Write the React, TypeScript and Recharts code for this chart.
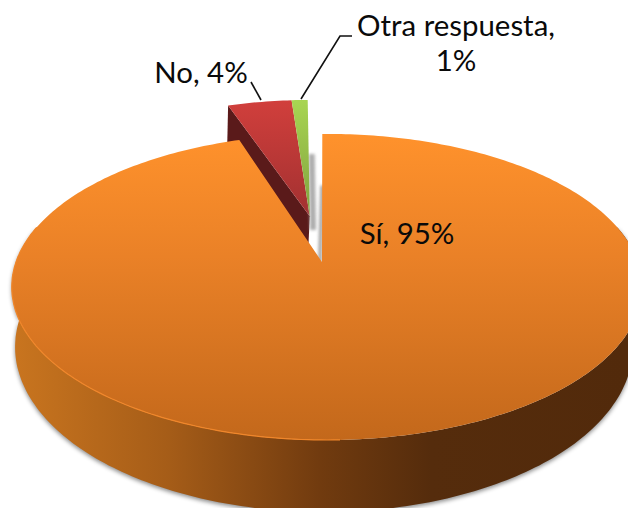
import { PieChart, Pie } from 'recharts';

const categories = ['No', 'Otra respuesta', 'Sí'];
const shares = [4, 1, 95];
const faceFills = ['url(#faceNo)', 'url(#faceOtra)', 'url(#faceSi)'];

const tableData = categories.map((name, i) => ({ name, value: shares[i], fill: faceFills[i] }));

// fake 3D: pie angles go through a perspective plane
const TILT = 0.479;
const PERSP = 0.163;
const BOTTOM_DX = -3;
const BOTTOM_SCALE = 0.98;
const BOTTOM_TILT = 0.517;
const BOTTOM_DY = 58;
const EXPLODE_ANGLE = 100.2;
const EXPLODE_DIST = 0.328;
const APEX_SHIFT = -0.016;
const FONT = 'Lato, "Open Sans", sans-serif';

const rad = (d: number) => (d * Math.PI) / 180;

function project(cx: number, cy: number, r: number, u: number, v: number, bottom = false) {
  const w = 1 - PERSP * v;
  if (bottom) {
    return [cx + BOTTOM_DX + (r * BOTTOM_SCALE * u) / w, cy + BOTTOM_DY + (r * BOTTOM_TILT * v) / w];
  }
  return [cx + (r * u) / w, cy + (r * TILT * v) / w];
}

function toPath(pts: number[][]) {
  return 'M' + pts.map((p) => p[0].toFixed(1) + ',' + p[1].toFixed(1)).join('L') + 'Z';
}

function PieSlice(props: any) {
  const { cx, cy, outerRadius: r, startAngle, endAngle, fill, name } = props;
  const exploded = name !== 'Sí';
  const ox = exploded ? EXPLODE_DIST * Math.cos(rad(EXPLODE_ANGLE)) : 0;
  const oy = exploded ? -EXPLODE_DIST * Math.sin(rad(EXPLODE_ANGLE)) : 0;
  const at = (a: number, f: number, bottom = false) =>
    project(cx, cy, r, ox + f * Math.cos(rad(a)), oy - f * Math.sin(rad(a)), bottom);
  const apex = exploded ? at(0, 0) : project(cx, cy, r, APEX_SHIFT, 0);
  const apexLow = exploded ? at(0, 0, true) : project(cx, cy, r, APEX_SHIFT, 0, true);
  const shifted = (p: number[], dx: number) => [p[0] + dx, p[1]];

  const dir = endAngle < startAngle ? -1 : 1;
  const steps = Math.ceil(Math.abs(endAngle - startAngle));
  const angles: number[] = [];
  for (let i = 0; i <= steps; i++) angles.push(startAngle + (dir * Math.abs(endAngle - startAngle) * i) / steps);

  const rim = angles.map((a) => at(a, 1));
  const front = angles.filter((a) => -Math.sin(rad(a)) > -0.25);

  return (
    <g>
      {name === 'No' && (
        <path d={toPath([apex, at(startAngle, 1), at(startAngle, 1, true), apexLow])} fill="#5a1a1a" />
      )}
      {name === 'Otra respuesta' && (
        <path
          d={toPath([at(endAngle, 0.5), at(endAngle, -0.1), shifted(at(endAngle, -0.1), 6), shifted(at(endAngle, 0.5), 6)])}
          fill="#adadad"
          filter="url(#softEdge)"
        />
      )}
      {name === 'Sí' && (
        <>
          <path
            d={toPath([at(startAngle, 0.56), apex, shifted(apex, -4), shifted(at(startAngle, 0.56), -4)])}
            fill="#a8a8a8"
            filter="url(#softEdge)"
          />
          <path
            d={toPath([...front.map((a) => at(a, 1)), ...front.slice().reverse().map((a) => at(a, 1, true))])}
            fill="url(#wallSi)"
            style={{ filter: 'drop-shadow(0px 2px 2px rgba(0,0,0,0.45))' }}
          />
        </>
      )}
      <path d={toPath([apex, ...rim])} fill={fill} />
      {name === 'Sí' && (
        <path
          d={'M' + front.filter((a) => Math.cos(rad(a)) < 0.05).map((a) => at(a, 1).map((n) => n.toFixed(1)).join(',')).join('L')}
          fill="none"
          stroke="#f0862a"
          strokeWidth={1.2}
        />
      )}
    </g>
  );
}

function SliceLabel(props: any) {
  const { name, value } = props;
  const common = { fontFamily: FONT, fontSize: 29.4, fill: '#0a0a0a' };
  if (name === 'Sí') {
    return <text x={407} y={244} textAnchor="middle" {...common}>{`${name}, ${value}%`}</text>;
  }
  if (name === 'No') {
    return (
      <g>
        <polyline points="251,82 261,100" fill="none" stroke="#111" strokeWidth={1.6} />
        <text x={201} y={83} textAnchor="middle" {...common}>{`${name}, ${value}%`}</text>
      </g>
    );
  }
  return (
    <g>
      <polyline points="352,36 340,36 301,99" fill="none" stroke="#111" strokeWidth={1.6} />
      <text x={456} y={36} textAnchor="middle" {...common}>{`${name},`}</text>
      <text x={456} y={71} textAnchor="middle" {...common}>{`${value}%`}</text>
    </g>
  );
}

export default function App() {
  return (
    <div style={{ position: 'absolute', left: 0, top: 0, width: 628, height: 508, overflow: 'hidden', background: '#fff' }}>
      <PieChart width={628} height={508} margin={{ top: 0, right: 0, bottom: 0, left: 0 }}>
        <defs>
          <linearGradient id="faceSi" gradientUnits="userSpaceOnUse" x1="0" y1="134" x2="0" y2="440">
            <stop offset="0" stopColor="#ff922c" />
            <stop offset="0.4" stopColor="#ea8127" />
            <stop offset="1" stopColor="#c3681b" />
          </linearGradient>
          <linearGradient id="faceNo" gradientUnits="userSpaceOnUse" x1="0" y1="100" x2="0" y2="220">
            <stop offset="0" stopColor="#d13f3c" />
            <stop offset="1" stopColor="#a03030" />
          </linearGradient>
          <linearGradient id="faceOtra" gradientUnits="userSpaceOnUse" x1="0" y1="100" x2="0" y2="220">
            <stop offset="0" stopColor="#a8d552" />
            <stop offset="1" stopColor="#7f9f3e" />
          </linearGradient>
          <linearGradient id="wallSi" gradientUnits="userSpaceOnUse" x1="12" y1="0" x2="628" y2="0">
            <stop offset="0" stopColor="#c9751f" />
            <stop offset="0.25" stopColor="#a65d18" />
            <stop offset="0.5" stopColor="#713b0f" />
            <stop offset="0.68" stopColor="#552c0c" />
            <stop offset="1" stopColor="#522a0b" />
          </linearGradient>
          <filter id="softEdge" x="-100%" y="-20%" width="300%" height="140%">
            <feGaussianBlur stdDeviation="1.5" />
          </filter>
        </defs>
        <Pie
          data={tableData}
          dataKey="value"
          nameKey="name"
          cx={327}
          cy={262}
          outerRadius={311}
          startAngle={109}
          endAngle={-251}
          stroke="none"
          shape={(p: any) => <PieSlice {...p} />}
          label={(p: any) => <SliceLabel {...p} />}
          labelLine={false}
          isAnimationActive={false}
        />
      </PieChart>
    </div>
  );
}
